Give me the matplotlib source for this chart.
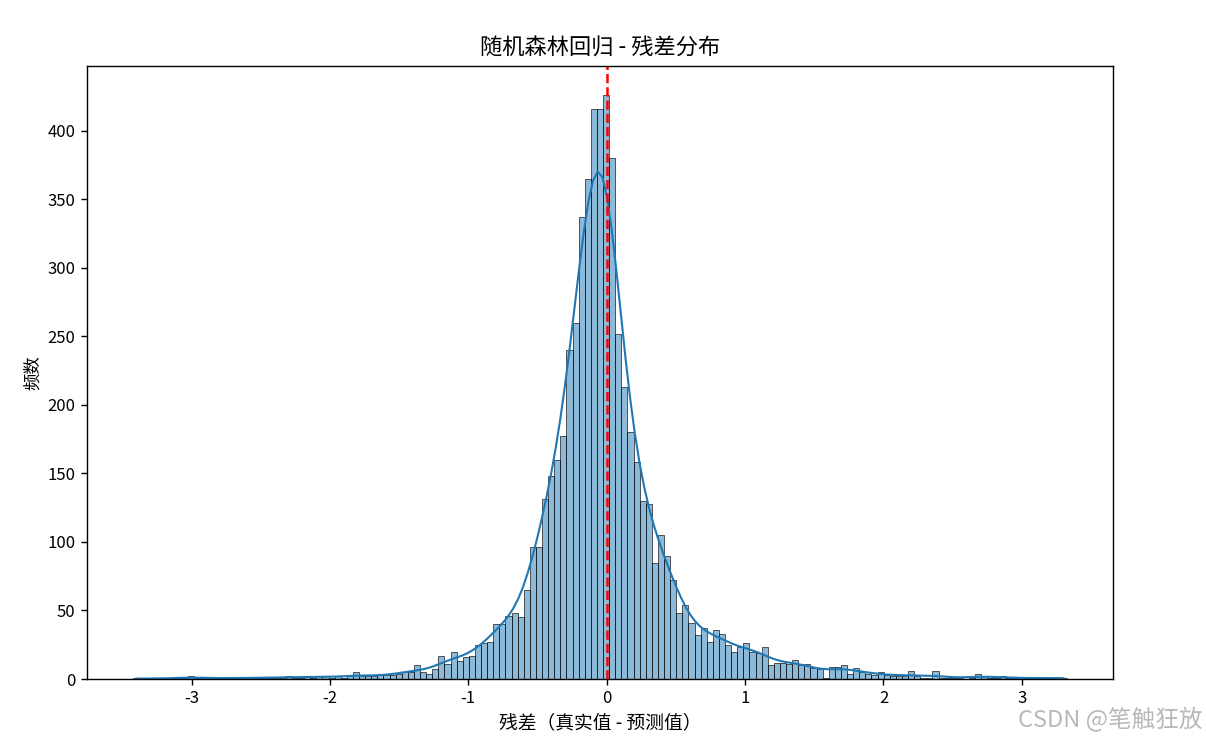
import numpy as np
import matplotlib
matplotlib.use("Agg")
import matplotlib.pyplot as plt
import seaborn as sns

plt.rcParams['font.family'] = ['Noto Sans CJK SC', 'DejaVu Sans']
plt.rcParams['axes.unicode_minus'] = False

# data range of residuals and histogram counts per bin
x_min = -3.420
x_max = 3.323
counts = [
    1, 0, 1, 0, 0, 1, 0, 1, 1, 2, 1, 1, 0, 1, 0, 1, 1, 1, 0, 1, 1, 1, 1, 1, 1,
    2, 1, 1, 2, 1, 2, 2, 1, 2, 1, 2,
    5, 2, 2, 2, 3, 3, 3, 4, 5, 5, 10, 5, 4, 7,
    17, 11, 20, 13, 16, 17, 25, 26, 27, 40, 40, 46, 48, 45, 65, 96, 96,
    131, 148, 160, 177, 240, 260, 337, 365, 416, 416, 426, 380, 252,
    213, 180, 158, 130, 128, 85, 105, 90, 72, 48, 54, 41, 32, 37, 27,
    36, 33, 25, 20, 23, 26, 20, 19, 23, 10, 12, 12, 11, 14, 10, 11, 8, 7,
    1, 9, 9, 10, 4, 8, 5, 4, 3, 5, 3, 2, 2, 2, 6, 2,
    1, 1, 6, 1, 1, 1, 1, 0, 1, 4, 2, 1, 1, 2, 1, 1, 0, 1, 1, 0, 1, 1, 1, 1,
]

title = "随机森林回归 - 残差分布"
xlabel = "残差（真实值 - 预测值）"
ylabel = "频数"
watermark = "CSDN @笔触狂放"

edges = np.linspace(x_min, x_max, len(counts) + 1)
centers = (edges[:-1] + edges[1:]) / 2
residuals = np.repeat(centers, counts)

fig = plt.figure(figsize=(12.06, 7.46), dpi=100)
ax = fig.add_axes([0.0719, 0.0898, 0.8512, 0.8217])

sns.histplot(residuals, bins=edges, kde=True, ax=ax)
ax.axvline(0, color='red', linestyle='--', linewidth=1.8)

ax.set_title(title, fontsize=16, pad=8)
ax.set_xlabel(xlabel, fontsize=13.5, labelpad=4)
ax.set_ylabel(ylabel, fontsize=12.5)
ax.tick_params(labelsize=12, width=1.0, length=4.5)
for s in ax.spines.values():
    s.set_linewidth(1.0)

fig.text(0.997, 0.018, watermark, ha='right', va='bottom', fontsize=17,
         color='#b8b8b8')

fig.savefig("out.png", dpi=100)
